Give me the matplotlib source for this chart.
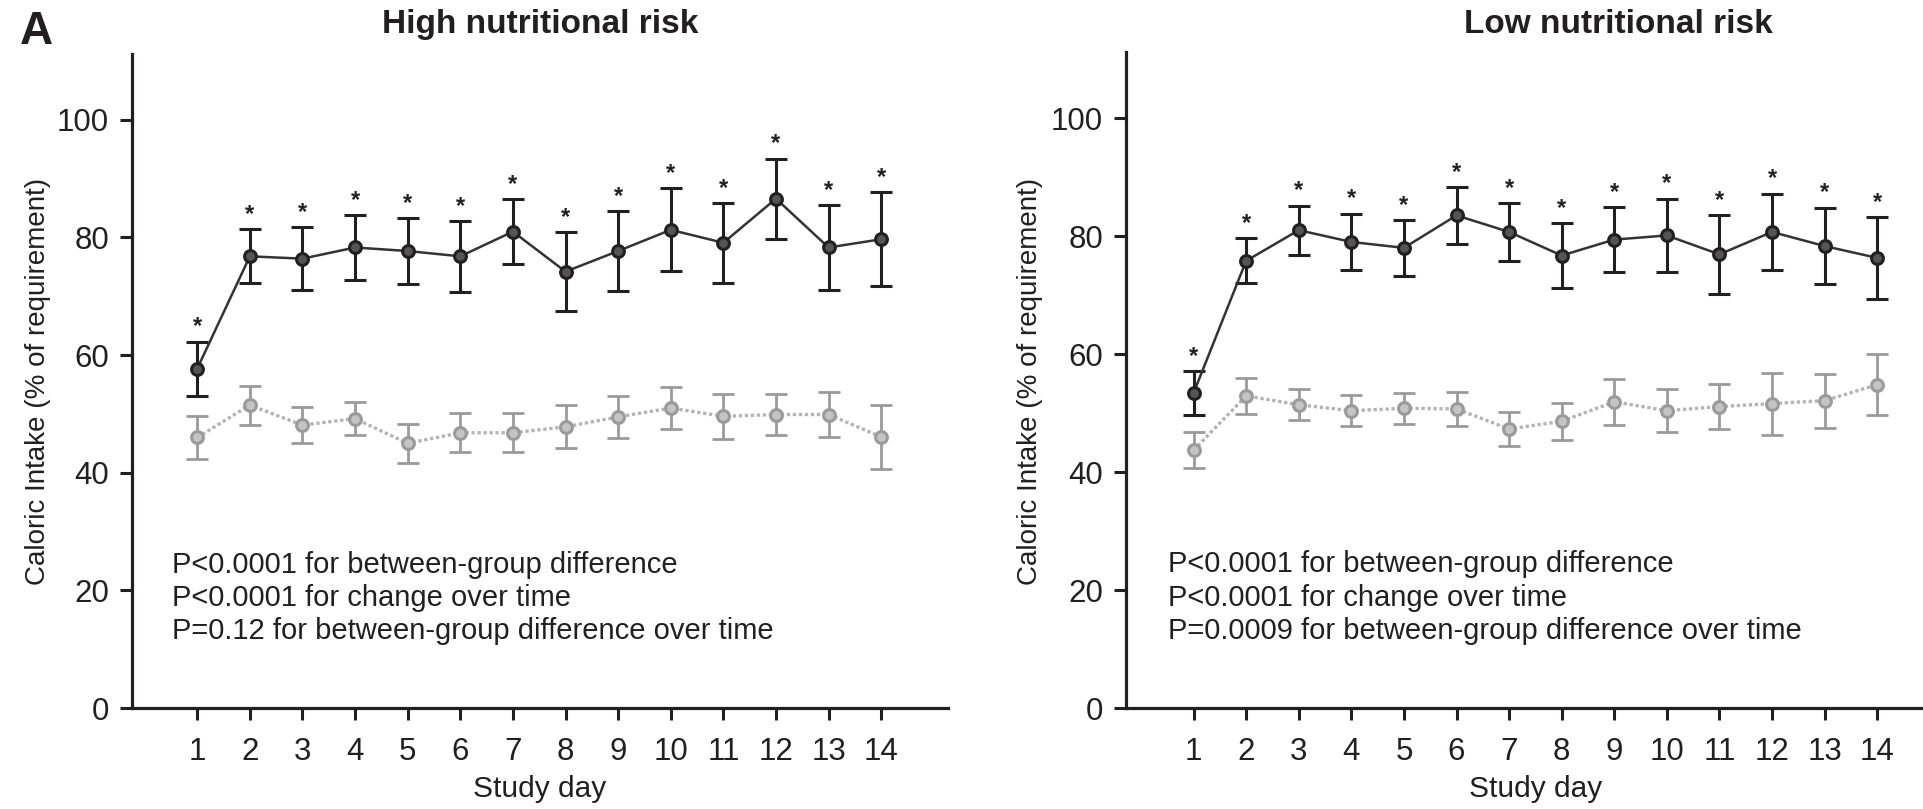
import matplotlib
matplotlib.use("Agg")
import matplotlib.pyplot as plt

plt.rcParams['font.family'] = ['Liberation Sans', 'DejaVu Sans']

# Study days
days = [1, 2, 3, 4, 5, 6, 7, 8, 9, 10, 11, 12, 13, 14]

# High nutritional risk: mean caloric intake (% of requirement) and error
high_g1_mean = [57.7, 76.8, 76.4, 78.3, 77.7, 76.8, 81.0, 74.2, 77.7, 81.3, 79.1, 86.6, 78.3, 79.7]
high_g1_err = [4.6, 4.6, 5.3, 5.55, 5.6, 6.0, 5.55, 6.75, 6.8, 7.05, 6.8, 6.8, 7.25, 8.0]
high_g2_mean = [46.0, 51.5, 48.1, 49.2, 45.0, 46.8, 46.8, 47.8, 49.5, 51.0, 49.6, 49.9, 49.9, 46.1]
high_g2_err = [3.7, 3.3, 3.1, 2.85, 3.35, 3.3, 3.3, 3.65, 3.6, 3.5, 3.8, 3.5, 3.8, 5.5]

# Low nutritional risk
low_g1_mean = [53.4, 75.8, 81.0, 79.0, 78.0, 83.5, 80.7, 76.7, 79.4, 80.1, 76.9, 80.7, 78.3, 76.3]
low_g1_err = [3.75, 3.8, 4.15, 4.8, 4.75, 4.8, 4.9, 5.55, 5.55, 6.25, 6.7, 6.5, 6.5, 6.95]
low_g2_mean = [43.7, 52.9, 51.4, 50.4, 50.8, 50.7, 47.3, 48.6, 51.9, 50.4, 51.1, 51.6, 52.1, 54.8]
low_g2_err = [3.05, 3.1, 2.6, 2.65, 2.6, 2.9, 2.9, 3.1, 3.85, 3.6, 3.85, 5.25, 4.6, 5.2]

# Days with a significant between-group difference
high_sig_days = days
low_sig_days = days

yticks = [0, 20, 40, 60, 80, 100]

high_stats = ["P<0.0001 for between-group difference",
              "P<0.0001 for change over time",
              "P=0.12 for between-group difference over time"]
low_stats = ["P<0.0001 for between-group difference",
             "P<0.0001 for change over time",
             "P=0.0009 for between-group difference over time"]

DARK = '#231f20'
GREY = '#9a9a9a'
GREY_LINE = '#b4b4b4'

W, H = 1924, 809
fig = plt.figure(figsize=(W / 100, H / 100), dpi=100)


def px_axes(x0, y0, x1, y1):
    return fig.add_axes([x0 / W, 1 - y1 / H, (x1 - x0) / W, (y1 - y0) / H])


def draw_panel(ax, g1_mean, g1_err, g2_mean, g2_err, sig_days, stats, xlim):
    # grey group, dotted connecting line
    ax.errorbar(days, g2_mean, yerr=g2_err, color=GREY, ecolor=GREY, elinewidth=2.0,
                capsize=8, capthick=2.0, linestyle='none', zorder=2)
    ax.plot(days, g2_mean, linestyle=(0, (1.0, 0.8)), color=GREY_LINE, linewidth=2.4, zorder=3)
    ax.plot(days, g2_mean, 'o', markersize=8.5, markerfacecolor='#c4c4c4',
            markeredgecolor=GREY, markeredgewidth=2.2, zorder=4)
    # dark group, solid connecting line
    ax.errorbar(days, g1_mean, yerr=g1_err, color=DARK, ecolor=DARK, elinewidth=2.2,
                capsize=8, capthick=2.2, linestyle='none', zorder=5)
    ax.plot(days, g1_mean, '-', color='#333333', linewidth=1.8, zorder=6)
    ax.plot(days, g1_mean, 'o', markersize=8.5, markerfacecolor='#555555',
            markeredgecolor=DARK, markeredgewidth=2.2, zorder=7)
    # significance markers
    for d, m, e in zip(days, g1_mean, g1_err):
        if d in sig_days:
            ax.text(d, m + e + 1.4, '*', ha='center', va='baseline', fontsize=17,
                    fontweight='bold', color=DARK, zorder=8)

    ax.set_xlim(*xlim)
    ax.set_ylim(0, 111.2)
    ax.set_xticks(days)
    ax.set_xticklabels([str(d) for d in days])
    ax.set_yticks(yticks)
    ax.set_yticklabels([str(t) for t in yticks])
    for side in ('top', 'right'):
        ax.spines[side].set_visible(False)
    for side in ('left', 'bottom'):
        ax.spines[side].set_linewidth(2.3)
        ax.spines[side].set_color(DARK)
    ax.tick_params(axis='both', direction='out', length=8.6, width=2.2, color=DARK,
                   labelsize=22.5, labelcolor=DARK)
    ax.tick_params(axis='x', pad=12.5)
    ax.tick_params(axis='y', pad=8)

    for line, yv in zip(stats, [23.0, 17.3, 11.7]):
        ax.text(0.52, yv, line, ha='left', va='baseline', fontsize=21, color=DARK)

    ax.text(7.5, -0.136, 'Study day', transform=ax.get_xaxis_transform(),
            ha='center', va='baseline', fontsize=21.5, color=DARK, clip_on=False)


ax1 = px_axes(132, 54, 948, 708)
draw_panel(ax1, high_g1_mean, high_g1_err, high_g2_mean, high_g2_err,
           high_sig_days, high_stats, (-0.24, 15.27))

ax2 = px_axes(1126, 52, 1924, 708)
draw_panel(ax2, low_g1_mean, low_g1_err, low_g2_mean, low_g2_err,
           low_sig_days, low_stats, (-0.285, 14.89))

# Y-axis labels
fig.text(38 / W, 1 - 381 / H, 'Caloric Intake (% of requirement)', rotation=90,
         ha='center', va='center', fontsize=20, color=DARK)
fig.text(1030 / W, 1 - 381 / H, 'Caloric Intake (% of requirement)', rotation=90,
         ha='center', va='center', fontsize=20, color=DARK)

# Panel titles
fig.text(540 / W, 1 - 33 / H, 'High nutritional risk', ha='center', va='baseline',
         fontsize=24, fontweight='bold', color=DARK)
fig.text(1618 / W, 1 - 33 / H, 'Low nutritional risk', ha='center', va='baseline',
         fontsize=24, fontweight='bold', color=DARK)

# Panel letter
fig.text(20 / W, 1 - 44 / H, 'A', ha='left', va='baseline', fontsize=33,
         fontweight='bold', color=DARK)

fig.savefig('out.png', dpi=100)
